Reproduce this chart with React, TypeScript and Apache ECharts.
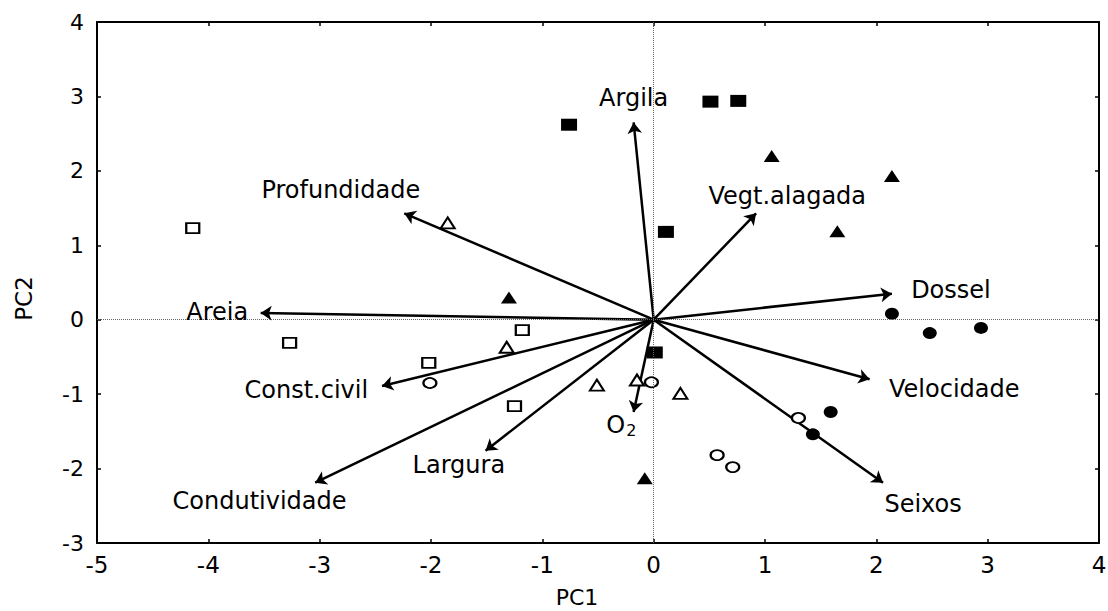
import React, { useEffect, useRef } from "react";
import * as echarts from "echarts";

// Sample scores (PC1, PC2) by group
const openSquares: [number, number][] = [
  [-4.14, 1.23], [-3.27, -0.31], [-1.18, -0.14], [-2.02, -0.58], [-1.25, -1.16],
];
const filledSquares: [number, number][] = [
  [-0.76, 2.62], [0.51, 2.93], [0.76, 2.94], [0.11, 1.18], [0.01, -0.44],
];
const filledTriangles: [number, number][] = [
  [1.06, 2.2], [2.14, 1.93], [1.65, 1.19], [-1.3, 0.3], [-0.08, -2.13],
];
const openTriangles: [number, number][] = [
  [-1.85, 1.3], [-1.32, -0.37], [-0.51, -0.88], [-0.15, -0.81], [0.24, -0.99],
];
const openCircles: [number, number][] = [
  [-2.01, -0.85], [-0.02, -0.84], [0.57, -1.82], [0.71, -1.98], [1.3, -1.32],
];
const filledCircles: [number, number][] = [
  [2.14, 0.08], [2.48, -0.18], [2.94, -0.11], [1.59, -1.24], [1.43, -1.54],
];

// Variable loadings (arrow tips)
const variables = [
  "Argila", "Profundidade", "Vegt.alagada", "Dossel", "Areia", "Const.civil",
  "Condutividade", "Largura", "O2", "Velocidade", "Seixos",
];
const arrowTips: [number, number][] = [
  [-0.18, 2.65], [-2.24, 1.43], [0.92, 1.43], [2.14, 0.35], [-3.53, 0.09], [-2.44, -0.89],
  [-3.04, -2.19], [-1.51, -1.76], [-0.18, -1.24], [1.94, -0.8], [2.06, -2.19],
];
const labelPositions: [number, number][] = [
  [-0.18, 2.98], [-2.81, 1.74], [1.2, 1.66], [2.67, 0.4], [-3.92, 0.1], [-3.12, -0.95],
  [-3.54, -2.43], [-1.75, -1.95], [-0.29, -1.42], [2.7, -0.93], [2.42, -2.47],
];

const xTicks = [-5, -4, -3, -2, -1, 0, 1, 2, 3, 4];
const yTicks = [-3, -2, -1, 0, 1, 2, 3, 4];

const FONT = "DejaVu Sans";

export default function App() {
  const ref = useRef<HTMLDivElement>(null);
  useEffect(() => {
    if (!ref.current) return;
    const chart = echarts.init(ref.current, undefined, { renderer: "svg" });
    const xMin = xTicks[0], xMax = xTicks[xTicks.length - 1];
    const yMin = yTicks[0], yMax = yTicks[yTicks.length - 1];
    const axisLine = { show: true, onZero: false, lineStyle: { color: "#000", width: 2 } };
    const axisTick = { show: true, inside: true, length: 4, lineStyle: { color: "#000", width: 1.5 } };

    const openStyle = { color: "#fff", borderColor: "#000", borderWidth: 2, opacity: 1 };
    const filledStyle = { color: "#000", borderColor: "#000", borderWidth: 0, opacity: 1 };

    const scatter = (name: string, data: [number, number][], symbol: string, size: number[], style: any) => ({
      name,
      type: "scatter",
      data,
      symbol,
      symbolSize: size,
      itemStyle: style,
      z: 4,
    });

    chart.setOption({
      animation: false,
      backgroundColor: "#fff",
      grid: { left: 97, right: 9, top: 22, bottom: 68, containLabel: false, outerBoundsMode: "none" },
      xAxis: [
        {
          type: "value", min: xMin, max: xMax, interval: 1,
          name: "PC1", nameLocation: "middle", nameGap: 42,
          nameTextStyle: { fontFamily: FONT, fontSize: 22, color: "#000", lineHeight: 24, padding: [0, 42, 0, 0] },
          axisLine, axisTick,
          axisLabel: { fontFamily: FONT, fontSize: 23, color: "#000", margin: 10 },
          splitLine: { show: false },
        },
        {
          type: "value", min: xMin, max: xMax, interval: 1, position: "top",
          axisLine, axisTick, axisLabel: { show: false }, splitLine: { show: false },
        },
      ],
      yAxis: [
        {
          type: "value", min: yMin, max: yMax, interval: 1,
          name: "PC2", nameLocation: "middle", nameGap: 62, nameRotate: 90,
          nameTextStyle: { fontFamily: FONT, fontSize: 23, color: "#000", padding: [0, 32, 0, 0] },
          axisLine, axisTick,
          axisLabel: { fontFamily: FONT, fontSize: 22, color: "#000", margin: 13 },
          splitLine: { show: false },
        },
        {
          type: "value", min: yMin, max: yMax, interval: 1, position: "right",
          axisLine, axisTick, axisLabel: { show: false }, splitLine: { show: false },
        },
      ],
      series: [
        {
          type: "scatter",
          data: [],
          z: 1,
          markLine: {
            silent: true,
            symbol: ["none", "none"],
            label: { show: false },
            lineStyle: { color: "#666", width: 1, type: "dotted" },
            data: [{ xAxis: 0 }, { yAxis: 0 }],
          },
        },
        {
          type: "lines",
          coordinateSystem: "cartesian2d",
          z: 3,
          symbol: ["none", "arrow"],
          symbolSize: [0, 11],
          lineStyle: { color: "#000", width: 2.5, opacity: 1 },
          data: arrowTips.map((t) => ({ coords: [[0, 0], t] })),
        },
        scatter("openSquares", openSquares, "rect", [13, 10], openStyle),
        scatter("filledSquares", filledSquares, "rect", [16, 12], filledStyle),
        scatter("filledTriangles", filledTriangles, "triangle", [16, 12], filledStyle),
        scatter("openTriangles", openTriangles, "triangle", [14, 11], openStyle),
        scatter("openCircles", openCircles, "circle", [13, 10], openStyle),
        scatter("filledCircles", filledCircles, "circle", [14, 12], filledStyle),
        {
          type: "scatter",
          z: 5,
          symbolSize: 0,
          itemStyle: { opacity: 1 },
          data: variables.map((v, i) => ({ name: v, value: labelPositions[i] })),
          label: {
            show: true,
            position: "inside",
            align: "center",
            verticalAlign: "middle",
            fontFamily: FONT,
            fontSize: 24,
            color: "#000",
            opacity: 1,
            formatter: (p: any) => (p.name === "O2" ? "{a|O}{b|2}" : p.name),
            rich: {
              a: { fontFamily: FONT, fontSize: 24, color: "#000" },
              b: { fontFamily: FONT, fontSize: 16, color: "#000", padding: [10, 0, 0, 1] },
            },
          },
        },
      ],
    });
    return () => chart.dispose();
  }, []);
  return (
    <div
      ref={ref}
      style={{ position: "fixed", left: 0, top: 0, width: 1108, height: 611, background: "#fff" }}
    />
  );
}
